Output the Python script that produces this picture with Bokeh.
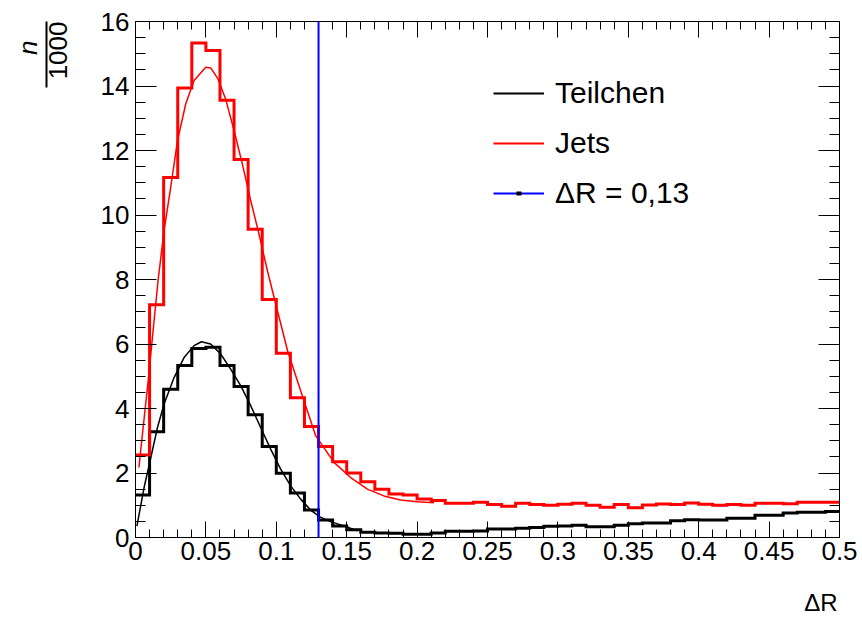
import math
from bokeh.plotting import figure
from bokeh.models import (Range1d, FixedTicker, LinearAxis, Span, Legend,
                          LegendItem, Title)
from bokeh.embed import file_html
from bokeh.resources import INLINE

# ---------------- data ----------------
bin_width = 0.01
n_bins = 50
# histogram contents (n/1000) per bin of width 0.01 from 0 to 0.5
teilchen_counts = [1.32, 3.28, 4.60, 5.33, 5.86, 5.90, 5.33, 4.68, 3.81, 2.82,
                   1.99, 1.38, 0.85, 0.54, 0.36, 0.24, 0.16, 0.14, 0.13, 0.10,
                   0.10, 0.14, 0.19, 0.19, 0.20, 0.26, 0.26, 0.29, 0.31, 0.35,
                   0.36, 0.38, 0.33, 0.33, 0.38, 0.43, 0.45, 0.45, 0.52, 0.55,
                   0.54, 0.54, 0.60, 0.60, 0.69, 0.69, 0.76, 0.78, 0.78, 0.81]
jets_counts = [2.56, 7.22, 11.16, 13.94, 15.33, 15.10, 13.56, 11.72, 9.56, 7.38,
               5.71, 4.33, 3.44, 2.82, 2.35, 2.00, 1.73, 1.50, 1.35, 1.32,
               1.19, 1.15, 1.06, 1.06, 1.09, 1.02, 0.97, 1.06, 1.02, 1.00,
               1.03, 1.06, 1.00, 0.94, 1.02, 0.92, 1.01, 1.04, 1.02, 1.07,
               1.03, 1.00, 1.02, 1.00, 1.06, 1.06, 1.05, 1.09, 1.09, 1.09]

# fit curves
teilchen_fit_x = [0.001, 0.0061, 0.0109, 0.0156, 0.0203, 0.0274, 0.0345, 0.0416,
                  0.0468, 0.0534, 0.0605, 0.0676, 0.0747, 0.0818, 0.0889, 0.096,
                  0.1031, 0.1102, 0.1173, 0.1244, 0.131, 0.138, 0.148, 0.1576]
teilchen_fit_y = [0.35, 1.55, 2.48, 3.41, 4.14, 4.96, 5.58, 5.95,
                  6.07, 6.00, 5.69, 5.22, 4.71, 4.09, 3.41, 2.74,
                  2.12, 1.60, 1.19, 0.85, 0.64, 0.50, 0.36, 0.21]
jets_fit_x = [0.0024, 0.009, 0.016, 0.0203, 0.025, 0.0298, 0.0357, 0.0416,
              0.0499, 0.0534, 0.0586, 0.064, 0.07, 0.0759, 0.0818, 0.0877,
              0.0937, 0.0984, 0.108, 0.1173, 0.128, 0.141, 0.1528, 0.1647,
              0.1764, 0.1883, 0.2, 0.212]
jets_fit_y = [2.17, 4.86, 7.96, 9.52, 10.86, 12.30, 13.45, 14.17,
              14.58, 14.56, 14.22, 13.60, 12.62, 11.58, 10.45, 9.41,
              8.27, 7.45, 5.79, 4.55, 3.15, 2.33, 1.86, 1.50,
              1.29, 1.16, 1.11, 1.08]

cut_value = 0.13

series_labels = ["Teilchen", "Jets", "\u0394R = 0,13"]
x_title = "\u0394R"
y_title_num = "n"
y_title_den = "1000"
x_ticks = [0, 0.05, 0.1, 0.15, 0.2, 0.25, 0.3, 0.35, 0.4, 0.45, 0.5]
x_tick_labels = ["0", "0.05", "0.1", "0.15", "0.2", "0.25", "0.3", "0.35", "0.4", "0.45", "0.5"]
y_ticks = [0, 2, 4, 6, 8, 10, 12, 14, 16]
y_tick_labels = ["0", "2", "4", "6", "8", "10", "12", "14", "16"]

# ---------------- figure ----------------
FONT = "Liberation Sans"
NAN = float("nan")
edges = [round(i * bin_width, 2) for i in range(n_bins + 1)]

p = figure(width=858, height=626, x_range=Range1d(0, 0.5), y_range=Range1d(0, 16),
           output_backend="svg", toolbar_location=None,
           min_border_left=135, min_border_right=19, min_border_top=21, min_border_bottom=89)
p.xgrid.visible = False
p.ygrid.visible = False
p.outline_line_color = "black"
p.outline_line_width = 1
p.background_fill_color = "white"
p.border_fill_color = "white"

x_minor = [round(i * 0.01, 2) for i in range(51)]
y_minor = [i * 0.5 for i in range(33)]


def style_axis(ax, ticks, minor, labels, tick_len, minor_len, show):
    ax.ticker = FixedTicker(ticks=ticks, minor_ticks=minor)
    ax.major_tick_in = tick_len
    ax.major_tick_out = 0
    ax.minor_tick_in = minor_len
    ax.minor_tick_out = 0
    ax.axis_line_color = "black"
    ax.major_tick_line_color = "black"
    ax.minor_tick_line_color = "black"
    ax.major_label_overrides = dict(zip(ticks, labels))
    ax.major_label_text_font = FONT
    if show:
        ax.major_label_text_color = "black"
        ax.major_label_text_font_size = "26px"
    else:
        ax.major_label_text_color = None
        ax.major_label_text_font_size = "8px"
        ax.major_label_standoff = 0


def spacer_axis(gap):
    # an undrawn axis (one invisible tick) that only reserves room in a side panel
    return LinearAxis(ticker=FixedTicker(ticks=[0]), major_tick_in=0, major_tick_out=gap,
                      minor_tick_in=0, minor_tick_out=0, major_tick_line_color=None,
                      minor_tick_line_color=None, axis_line_color=None,
                      major_label_text_color=None, major_label_text_font_size="8px",
                      major_label_standoff=0)


xa = p.xaxis[0]
ya = p.yaxis[0]
style_axis(xa, x_ticks, x_minor, x_tick_labels, 16, 8, True)
style_axis(ya, y_ticks, y_minor, y_tick_labels, 21, 10, True)
xa.major_label_standoff = 4
ya.major_label_standoff = 6

top_ax = LinearAxis()
style_axis(top_ax, x_ticks, x_minor, x_tick_labels, 16, 8, False)
p.add_layout(top_ax, "above")
right_ax = LinearAxis()
style_axis(right_ax, y_ticks, y_minor, y_tick_labels, 21, 10, False)
p.add_layout(right_ax, "right")

# x title, right aligned under the axis
p.add_layout(spacer_axis(24), "below")
p.add_layout(Title(text=x_title, align="right", offset=2, standoff=0,
                   text_font=FONT, text_font_style="normal", text_font_size="24px",
                   text_color="black"), "below")

# y title as a fraction: 1000 (denominator), bar, n (numerator)
p.add_layout(spacer_axis(31), "left")
p.add_layout(Title(text=y_title_den, align="right", offset=0, standoff=0,
                   text_font=FONT, text_font_style="normal", text_font_size="26px",
                   text_color="black"), "left")
bar_ax = LinearAxis(bounds=(13.95, 16), ticker=FixedTicker(ticks=[]),
                    major_tick_in=0, major_tick_out=0, minor_tick_in=0, minor_tick_out=0,
                    major_label_text_color=None, major_label_standoff=0,
                    axis_line_color="black", axis_line_width=2)
p.add_layout(bar_ax, "left")
p.add_layout(Title(text=y_title_num, align="right", offset=19, standoff=4,
                   vertical_align="top",
                   text_font=FONT, text_font_style="italic", text_font_size="26px",
                   text_color="black"), "left")

# histograms
p.step(x=edges, y=teilchen_counts + [teilchen_counts[-1]], mode="after",
       line_color="black", line_width=3, line_join="miter")
p.line(x=teilchen_fit_x, y=teilchen_fit_y, line_color="black", line_width=1.5)
p.step(x=edges, y=jets_counts + [jets_counts[-1]], mode="after",
       line_color="red", line_width=3, line_join="miter")
p.line(x=jets_fit_x, y=jets_fit_y, line_color="red", line_width=1.5)

p.add_layout(Span(location=cut_value, dimension="height", line_color="blue", line_width=2))

# legend (entries built from invisible renderers)
lt = p.line(x=[NAN], y=[NAN], line_color="black", line_width=2)
lj = p.line(x=[NAN], y=[NAN], line_color="red", line_width=2)
lc = p.line(x=[NAN], y=[NAN], line_color="blue", line_width=2)
# small black square in the middle of the legend line (marker look)
lm = p.line(x=[NAN], y=[NAN], line_color="black", line_width=4,
            line_dash="0 23 5 100", line_cap="butt")
legend = Legend(items=[LegendItem(label=series_labels[0], renderers=[lt]),
                       LegendItem(label=series_labels[1], renderers=[lj]),
                       LegendItem(label=series_labels[2], renderers=[lc, lm])],
                location=(358, 324), orientation="vertical",
                glyph_width=51, glyph_height=40, label_height=40, spacing=10,
                label_standoff=11, padding=0, margin=0,
                border_line_color=None, background_fill_alpha=0,
                label_text_font=FONT, label_text_font_size="30px",
                label_text_color="black")
p.add_layout(legend)

open("out.html", "w").write(file_html(p, INLINE))
